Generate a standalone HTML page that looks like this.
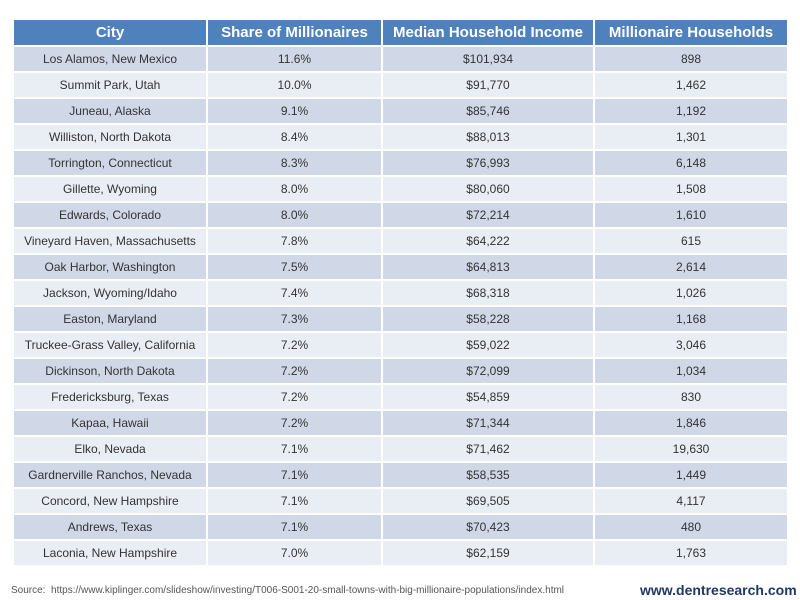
<!DOCTYPE html>
<html><head><meta charset="utf-8"><style>
body{margin:0;width:800px;height:600px;background:#fff;font-family:"Liberation Sans",sans-serif;position:relative;overflow:hidden}
table{position:absolute;left:14px;top:20px;width:773px;border-collapse:collapse;table-layout:fixed}
th{background:#4f81bd;color:#fff;font-size:15px;font-weight:bold;height:25px;padding:0;border-right:2px solid #fff;border-bottom:2px solid #fff;white-space:nowrap}
td{height:24px;padding:0;text-align:center;font-size:12px;color:#333;border-right:2px solid #fff;border-bottom:2px solid #fff;white-space:nowrap}
th:last-child,td:last-child{border-right:none}
tr:nth-child(odd) td{background:#d0d8e8}
tr:nth-child(even) td{background:#e9edf4}
.src{position:absolute;left:11px;top:585px;font-size:10px;color:#555}
.web{position:absolute;left:640px;top:582px;font-size:14px;font-weight:bold;color:#1f3864}
</style></head><body>
<table>
<thead><tr>
<th style="width:192px">City</th>
<th style="width:173px">Share of Millionaires</th>
<th style="width:210px">Median Household Income</th>
<th>Millionaire Households</th>
</tr></thead>
<tbody id="tb"></tbody>
</table>
<div class="src">Source:&nbsp; https://www.kiplinger.com/slideshow/investing/T006-S001-20-small-towns-with-big-millionaire-populations/index.html</div>
<div class="web">www.dentresearch.com</div>
<script>
const cities=["Los Alamos, New Mexico","Summit Park, Utah","Juneau, Alaska","Williston, North Dakota","Torrington, Connecticut","Gillette, Wyoming","Edwards, Colorado","Vineyard Haven, Massachusetts","Oak Harbor, Washington","Jackson, Wyoming/Idaho","Easton, Maryland","Truckee-Grass Valley, California","Dickinson, North Dakota","Fredericksburg, Texas","Kapaa, Hawaii","Elko, Nevada","Gardnerville Ranchos, Nevada","Concord, New Hampshire","Andrews, Texas","Laconia, New Hampshire"];
const shares=["11.6%","10.0%","9.1%","8.4%","8.3%","8.0%","8.0%","7.8%","7.5%","7.4%","7.3%","7.2%","7.2%","7.2%","7.2%","7.1%","7.1%","7.1%","7.1%","7.0%"];
const incomes=["$101,934","$91,770","$85,746","$88,013","$76,993","$80,060","$72,214","$64,222","$64,813","$68,318","$58,228","$59,022","$72,099","$54,859","$71,344","$71,462","$58,535","$69,505","$70,423","$62,159"];
const households=["898","1,462","1,192","1,301","6,148","1,508","1,610","615","2,614","1,026","1,168","3,046","1,034","830","1,846","19,630","1,449","4,117","480","1,763"];
const tb=document.getElementById('tb');
cities.forEach((c,i)=>{
  const tr=document.createElement('tr');
  
  
  [c,shares[i],incomes[i],households[i]].forEach(v=>{
    const td=document.createElement('td');
    
    
    td.textContent=v;
    tr.appendChild(td);
  });
  tb.appendChild(tr);
});
</script>
</body></html>
